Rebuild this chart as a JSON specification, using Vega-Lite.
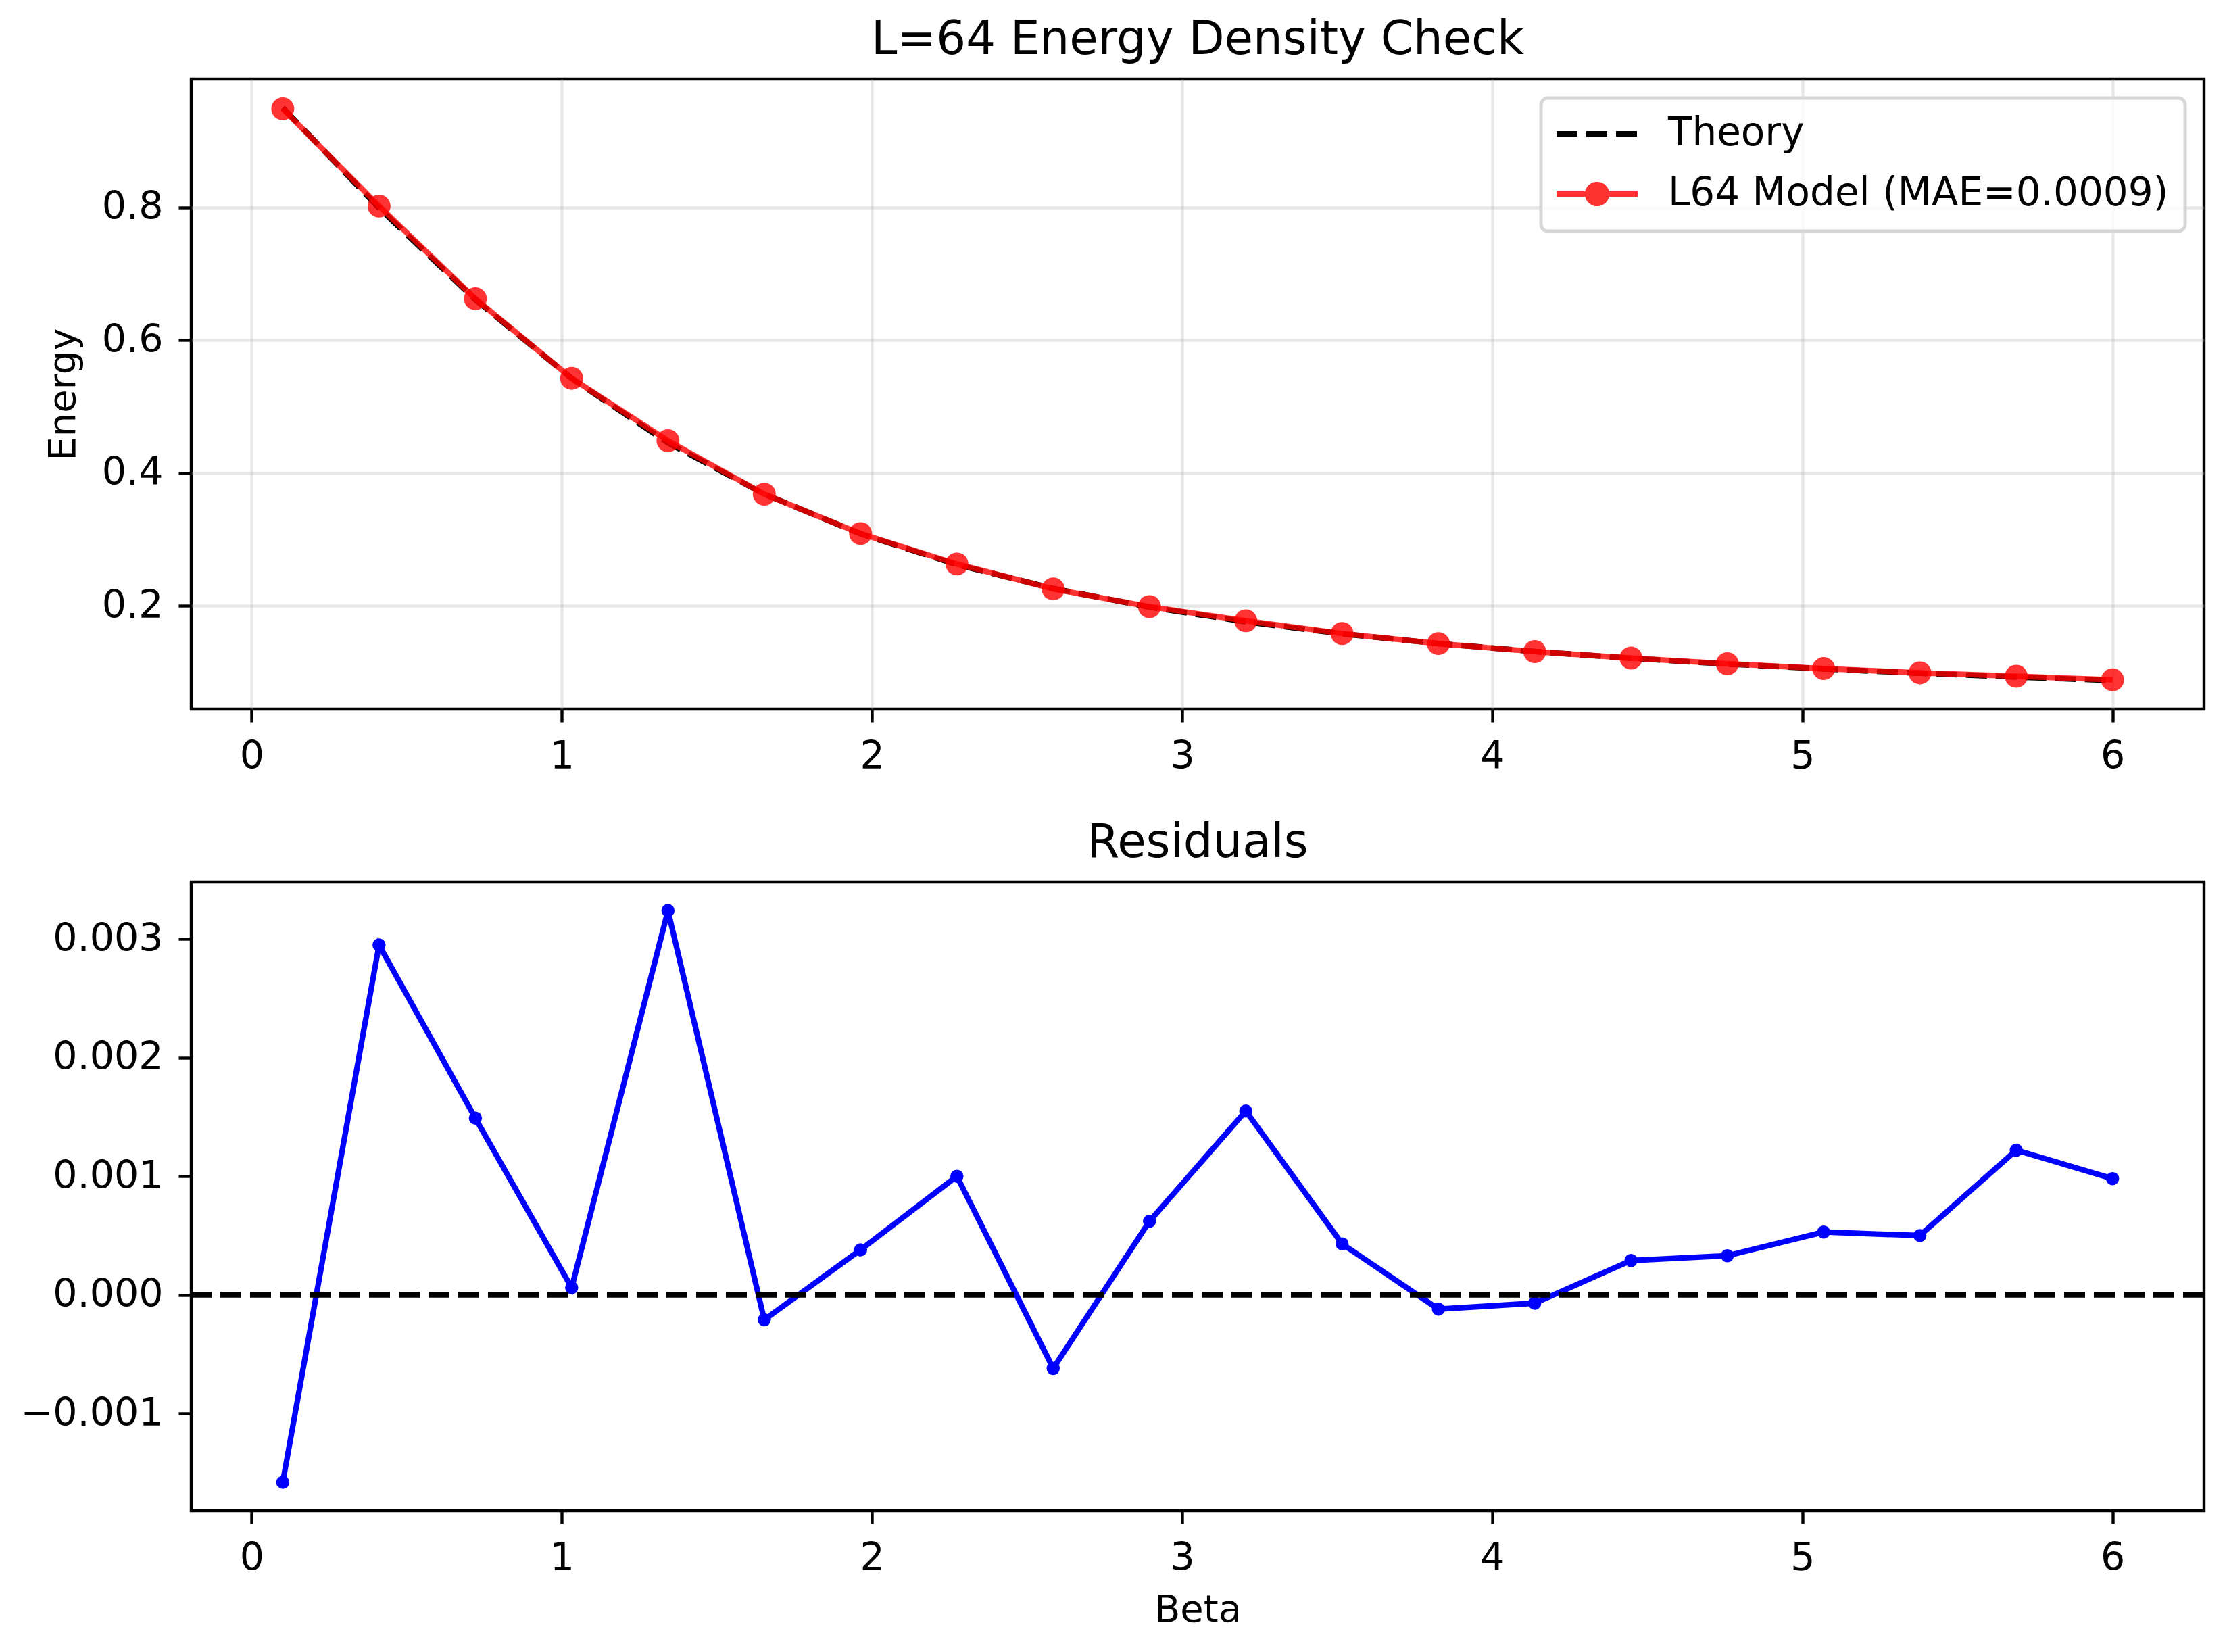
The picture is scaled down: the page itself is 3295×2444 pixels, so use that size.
{
  "$schema": "https://vega.github.io/schema/vega-lite/v6.json",
  "background": "white",
  "padding": {"left": 27, "top": 22, "right": 20, "bottom": 20},
  "datasets": {
    "main": [
      {"beta": 0.1, "theory": 0.9501, "model": 0.94852, "residual": -0.00158},
      {"beta": 0.4105, "theory": 0.799, "model": 0.80195, "residual": 0.00295},
      {"beta": 0.7211, "theory": 0.661, "model": 0.66249, "residual": 0.00149},
      {"beta": 1.0316, "theory": 0.5425, "model": 0.54256, "residual": 0.00006},
      {"beta": 1.3421, "theory": 0.4454, "model": 0.44864, "residual": 0.00324},
      {"beta": 1.6526, "theory": 0.3683, "model": 0.36809, "residual": -0.00021},
      {"beta": 1.9632, "theory": 0.3084, "model": 0.30878, "residual": 0.00038},
      {"beta": 2.2737, "theory": 0.262, "model": 0.263, "residual": 0.001},
      {"beta": 2.5842, "theory": 0.2261, "model": 0.22548, "residual": -0.00062},
      {"beta": 2.8947, "theory": 0.1981, "model": 0.19872, "residual": 0.00062},
      {"beta": 3.2053, "theory": 0.1759, "model": 0.17745, "residual": 0.00155},
      {"beta": 3.5158, "theory": 0.1578, "model": 0.15823, "residual": 0.00043},
      {"beta": 3.8263, "theory": 0.1432, "model": 0.14308, "residual": -0.00012},
      {"beta": 4.1368, "theory": 0.1311, "model": 0.13103, "residual": -0.00007},
      {"beta": 4.4474, "theory": 0.121, "model": 0.12129, "residual": 0.00029},
      {"beta": 4.7579, "theory": 0.1124, "model": 0.11273, "residual": 0.00033},
      {"beta": 5.0684, "theory": 0.105, "model": 0.10553, "residual": 0.00053},
      {"beta": 5.3789, "theory": 0.0985, "model": 0.099, "residual": 0.0005},
      {"beta": 5.6895, "theory": 0.0927, "model": 0.09392, "residual": 0.00122},
      {"beta": 6.0, "theory": 0.0876, "model": 0.08858, "residual": 0.00098}
    ]
  },
  "spacing": 60,
  "vconcat": [
    {
      "width": 2978,
      "height": 932,
      "title": {"text": "L=64 Energy Density Check"},
      "data": {"name": "main"},
      "layer": [
        {
          "mark": {"type": "line", "strokeDash": [31, 13], "strokeWidth": 8.25},
          "encoding": {
            "x": {"field": "beta", "type": "quantitative", "scale": {"domain": [-0.195, 6.295], "nice": false, "zero": false}, "axis": {"values": [0, 1, 2, 3, 4, 5, 6], "format": "d", "title": null, "grid": true}},
            "y": {"field": "theory", "type": "quantitative", "scale": {"domain": [0.0445, 0.9932], "nice": false, "zero": false}, "axis": {"values": [0.2, 0.4, 0.6, 0.8], "format": ".1f", "title": "Energy", "grid": true}},
            "color": {
              "datum": "Theory",
              "scale": {"domain": ["Theory", "L64 Model (MAE=0.0009)"], "range": ["black", "red"]},
              "legend": {
                "title": null,
                "orient": "top-right",
                "offset": 28,
                "padding": 24,
                "fillColor": "rgba(255,255,255,0.8)",
                "strokeColor": "#d6d6d6",
                "cornerRadius": 10,
                "labelFontSize": 58,
                "labelFont": "DejaVu Sans",
                "labelColor": "black",
                "labelLimit": 2000,
                "rowPadding": 29,
                "labelOffset": 76,
                "symbolSize": 1600,
                "symbolStrokeWidth": 8.25,
                "symbolOffset": 30,
                "encode": {
                  "legend": {"update": {"strokeWidth": {"value": 5}}},
                  "symbols": {
                    "update": {
                      "shape": {"signal": "datum.value === 'Theory' ? 'M-3,0L3,0' : 'M-3,0L3,0M0.7,0A0.7,0.7,0,1,1,-0.7,0A0.7,0.7,0,1,1,0.7,0Z'"},
                      "strokeDash": {"signal": "datum.value === 'Theory' ? [31, 13] : [1, 0]"},
                      "stroke": {"signal": "datum.value === 'Theory' ? 'black' : 'red'"},
                      "fill": {"signal": "datum.value === 'Theory' ? 'transparent' : 'red'"},
                      "opacity": {"signal": "datum.value === 'Theory' ? 1 : 0.8"},
                      "strokeWidth": {"value": 8.25}
                    }
                  }
                }
              }
            }
          }
        },
        {
          "mark": {"type": "line", "strokeWidth": 8.25, "opacity": 0.8},
          "encoding": {
            "x": {"field": "beta", "type": "quantitative"},
            "y": {"field": "model", "type": "quantitative"},
            "color": {"datum": "L64 Model (MAE=0.0009)"}
          }
        },
        {
          "mark": {"type": "point", "filled": true, "size": 1150, "color": "red", "opacity": 0.8, "strokeWidth": 0},
          "encoding": {
            "x": {"field": "beta", "type": "quantitative"},
            "y": {"field": "model", "type": "quantitative"}
          }
        }
      ]
    },
    {
      "width": 2978,
      "height": 930,
      "title": {"text": "Residuals"},
      "data": {"name": "main"},
      "layer": [
        {
          "mark": {"type": "line", "color": "blue", "strokeWidth": 8.25, "point": {"filled": true, "size": 380, "color": "blue", "strokeWidth": 0}},
          "encoding": {
            "x": {"field": "beta", "type": "quantitative", "scale": {"domain": [-0.195, 6.295], "nice": false, "zero": false}, "axis": {"values": [0, 1, 2, 3, 4, 5, 6], "format": "d", "title": "Beta", "titlePadding": 21}},
            "y": {"field": "residual", "type": "quantitative", "scale": {"domain": [-0.00182, 0.00348], "nice": false, "zero": false}, "axis": {"values": [-0.001, 0, 0.001, 0.002, 0.003], "format": ".3f", "title": null}}
          }
        },
        {
          "data": {"values": [{}]},
          "mark": {"type": "rule", "strokeDash": [31, 13], "strokeWidth": 8.25, "color": "black"},
          "encoding": {"y": {"datum": 0, "type": "quantitative"}}
        }
      ]
    }
  ],
  "config": {
    "font": "DejaVu Sans",
    "view": {"stroke": "black", "strokeWidth": 4.4},
    "axis": {
      "domain": false,
      "grid": false,
      "ticks": true,
      "tickColor": "black",
      "tickWidth": 4.4,
      "tickSize": 19,
      "labelFont": "DejaVu Sans",
      "labelFontSize": 57,
      "labelColor": "black",
      "labelPadding": 23,
      "labelLimit": 2000,
      "labelFlush": false,
      "labelOverlap": false,
      "labelBound": false,
      "titleFont": "DejaVu Sans",
      "titleFontSize": 56,
      "titleFontWeight": "normal",
      "titleColor": "black",
      "gridColor": "#b0b0b0",
      "gridOpacity": 0.3,
      "gridWidth": 4.4
    },
    "axisY": {"titlePadding": 28},
    "title": {"font": "DejaVu Sans", "fontSize": 69, "fontWeight": "normal", "color": "black", "offset": 23, "frame": "group", "anchor": "middle", "baseline": "alphabetic"}
  }
}
